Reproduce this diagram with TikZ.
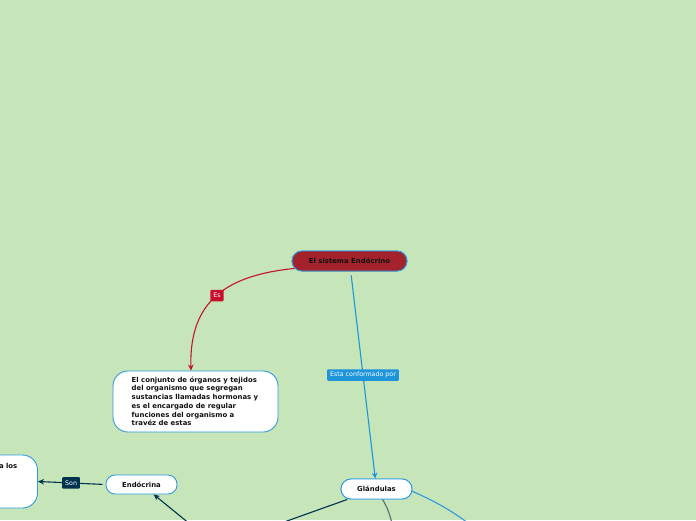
\documentclass[tikz,border=0pt]{standalone}
\usepackage{fontspec}
\setmainfont{DejaVu Sans}
\usetikzlibrary{arrows.meta}
\definecolor{bg}{HTML}{C6E5B8}
\definecolor{topred}{HTML}{A3222B}
\definecolor{lblred}{HTML}{C8102E}
\definecolor{edgered}{HTML}{C41230}
\definecolor{bord}{HTML}{2E9AE0}
\definecolor{lblblue}{HTML}{1E95DA}
\definecolor{navy}{HTML}{00334F}
\definecolor{grayedge}{HTML}{5A6B73}
\definecolor{txt}{HTML}{111111}
\tikzset{
  topic/.style={draw=bord, line width=0.9pt, fill=white, rounded corners=9pt,
    text=txt, font=\fontsize{6.9}{8}\selectfont\bfseries, inner sep=0pt},
  lbl/.style={text=white, font=\fontsize{6.3}{7}\selectfont, inner xsep=3pt,
    inner ysep=0pt, minimum height=11.5pt, rounded corners=1pt},
  tip/.style={-{Stealth[length=6pt,width=5.5pt]}},
  conn/.style={line width=1.1pt}
}
\begin{document}
\begin{tikzpicture}[x=1pt,y=-1pt]
\useasboundingbox (0,0) rectangle (696,520);
\clip (0,0) rectangle (696,520);
\fill[bg] (0,0) rectangle (696,520);

% nodes
\node[topic, fill=topred, minimum width=115pt, minimum height=20pt, rounded corners=10pt] (root) at (349.5,261) {El sistema Endócrino};
\node[topic, minimum width=165pt, minimum height=61pt, rounded corners=15pt] (descr) at (195.5,401.5) {};
\node[text=txt, font=\fontsize{6.9}{8.7}\selectfont\bfseries, align=left, inner sep=0pt, anchor=north west] (descrtxt) at (131.5,376.5) {El conjunto de órganos y tejidos\\del organismo que segregan\\sustancias llamadas hormonas y\\es el encargado de regular\\funciones del organismo a\\travéz de estas};
\node[topic, minimum width=71pt, minimum height=19pt, rounded corners=9pt] (endo) at (141.5,484.5) {Endócrina};
\node[topic, minimum width=71pt, minimum height=20pt, rounded corners=10pt] (glan) at (376.5,489) {Glándulas};
\node[topic, minimum width=77pt, minimum height=53pt, rounded corners=15pt] (left) at (-1,481.5) {};
\node[text=txt, font=\fontsize{6.9}{8.7}\selectfont\bfseries, inner sep=0pt, anchor=east] (lefttxt) at (17.5,465.5) {a los};

% off-image ends
\coordinate (c1) at (231,541);
\coordinate (c2) at (228.5,555.5);
\coordinate (c3) at (395,540);
\coordinate (c4) at (488,540);

% connectors
\draw[conn, edgered, tip] (root.south west) ++(3,-3) .. controls (228,275) and (189,300) .. ([xshift=-4.5pt]descr.north)
  node[lbl, fill=lblred, pos=0.5] (es) {Es};
\draw[conn, lblblue, tip, shorten <=4pt] (root) -- (glan)
  node[lbl, fill=lblblue, pos=0.5] (esta) {Esta conformado por};
\draw[conn, navy, tip, shorten <=3pt] (endo.west) -- (left.east)
  node[lbl, fill=navy, pos=0.51] (son) {Son};
\draw[conn, navy] (glan) -- (c1);
\draw[conn, navy, tip] (c2) -- (endo);
\draw[conn, grayedge] ([xshift=6pt]glan.south) .. controls (387,507) and (391,514) .. (c3);
\draw[conn, bord] ([yshift=-1pt]glan.east) ++(-3,0) .. controls (432,500) and (458,512) .. (c4);

% redraw nodes on top of connector ends
\node[topic, fill=topred, minimum width=115pt, minimum height=20pt, rounded corners=10pt] at (root) {El sistema Endócrino};
\node[topic, minimum width=71pt, minimum height=20pt, rounded corners=10pt] at (glan) {Glándulas};
\end{tikzpicture}
\end{document}
